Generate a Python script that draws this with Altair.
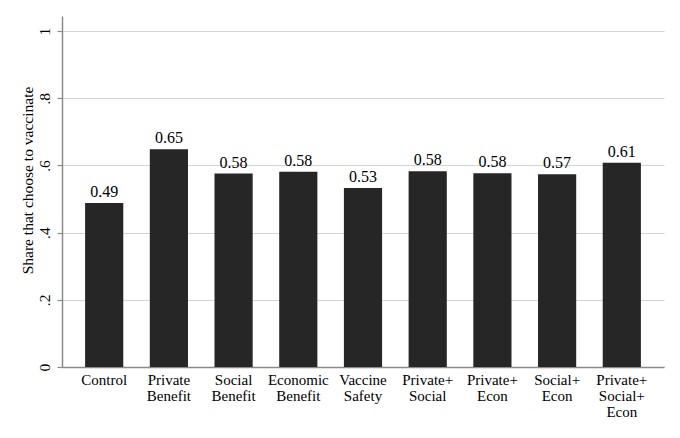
import altair as alt
import pandas as pd

categories = [
    "Control",
    "Private Benefit",
    "Social Benefit",
    "Economic Benefit",
    "Vaccine Safety",
    "Private+ Social",
    "Private+ Econ",
    "Social+ Econ",
    "Private+ Social+ Econ",
]
shares = [0.488, 0.648, 0.576, 0.581, 0.533, 0.583, 0.577, 0.574, 0.608]
y_ticks = [0, 0.2, 0.4, 0.6, 0.8, 1]

df = pd.DataFrame({"group": categories, "share": shares})

FONT = "Liberation Serif"
AXIS_GRAY = "#8a8a8a"

base = alt.Chart(df).encode(
    x=alt.X(
        "group:N",
        sort=categories,
        scale=alt.Scale(paddingInner=0.41, paddingOuter=0.357),
        axis=alt.Axis(
            title=None,
            labelAngle=0,
            labelExpr="split(datum.label, ' ')",
            ticks=False,
            labelPadding=5,
            labelBaseline="top",
            labelLineHeight=16,
            labelFontSize=15,
            labelFont=FONT,
            labelColor="black",
            domainColor=AXIS_GRAY,
            domainWidth=1.5,
            grid=False,
        ),
    )
)

bars = base.mark_bar(color="#262626").encode(
    y=alt.Y(
        "share:Q",
        scale=alt.Scale(domain=[0, 1.045], nice=False, zero=True),
        axis=alt.Axis(
            values=y_ticks,
            labelExpr="datum.value == 0 ? '0' : datum.value == 1 ? '1' : replace(format(datum.value, '.1f'), '0.', '.')",
            title="Share that choose to vaccinate",
            titleAngle=270,
            titleX=-30,
            titleY=164,
            titleAlign="center",
            titleBaseline="alphabetic",
            titleFontSize=15.5,
            titleFontWeight="normal",
            titleFont=FONT,
            titleColor="black",
            labelAngle=270,
            labelAlign="center",
            labelBaseline="alphabetic",
            labelPadding=8,
            labelFontSize=15.5,
            labelFont=FONT,
            labelColor="black",
            tickSize=5,
            tickColor=AXIS_GRAY,
            tickWidth=1.2,
            domainColor=AXIS_GRAY,
            domainWidth=1.5,
            grid=True,
            gridColor="#d4d4d4",
            gridWidth=1.2,
        ),
    )
)

text = base.mark_text(
    baseline="alphabetic", dy=-6, fontSize=16, font=FONT, color="black"
).encode(
    y="share:Q",
    text=alt.Text("share:Q", format=".2f"),
)

chart = (
    alt.layer(bars, text)
    .properties(
        width=602,
        height=351,
        autosize=alt.AutoSizeParams(type="none"),
        padding={"left": 54, "top": 8, "right": 6, "bottom": 55},
        background="white",
    )
    .configure_view(stroke=None)
)

chart.save("out.html", embed_options={"renderer": "svg", "actions": False})
